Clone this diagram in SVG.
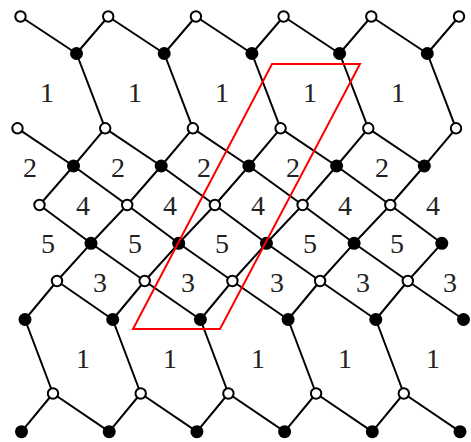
<svg xmlns="http://www.w3.org/2000/svg" width="471" height="442" viewBox="0 0 471 442">
<style>
.e{stroke:#000;stroke-width:2;fill:none}
.w{fill:#fff;stroke:#000;stroke-width:2}
.b{fill:#000}
.t{font-family:"Liberation Serif",serif;font-size:28px;text-anchor:middle;fill:#222}
.r{fill:none;stroke:#f00;stroke-width:2}
</style>
<g id="connectors" class="e">
<path d="M76.5,53.5L20.5,16.5M76.5,53.5L108.2,16.5M164.2,53.5L108.2,16.5M164.2,53.5L195.9,16.5M251.9,53.5L195.9,16.5M251.9,53.5L283.6,16.5M339.6,53.5L283.6,16.5M339.6,53.5L371.3,16.5M427.3,53.5L371.3,16.5M427.3,53.5L459,16.5"/>
<path d="M76.5,53.5L105.2,128.3M164.2,53.5L192.9,128.3M251.9,53.5L280.6,128.3M339.6,53.5L368.3,128.3M427.3,53.5L456,128.3"/>
<path d="M73.5,166L17.5,128.3M73.5,166L105.2,128.3M161.2,166L105.2,128.3M161.2,166L192.9,128.3M248.9,166L192.9,128.3M248.9,166L280.6,128.3M336.6,166L280.6,128.3M336.6,166L368.3,128.3M424.3,166L368.3,128.3M424.3,166L456,128.3"/>
<path d="M73.5,166L39.5,205M73.5,166L127.2,205M161.2,166L127.2,205M161.2,166L214.9,205M248.9,166L214.9,205M248.9,166L302.6,205M336.6,166L302.6,205M336.6,166L390.3,205M424.3,166L390.3,205"/>
<path d="M91,243.3L39.5,205M91,243.3L127.2,205M178.7,243.3L127.2,205M178.7,243.3L214.9,205M266.4,243.3L214.9,205M266.4,243.3L302.6,205M354.1,243.3L302.6,205M354.1,243.3L390.3,205M441.8,243.3L390.3,205"/>
<path d="M91,243.3L57,281M91,243.3L144.7,281M178.7,243.3L144.7,281M178.7,243.3L232.4,281M266.4,243.3L232.4,281M266.4,243.3L320.1,281M354.1,243.3L320.1,281M354.1,243.3L407.8,281M441.8,243.3L407.8,281"/>
<path d="M25,319.5L57,281M112.7,319.5L57,281M112.7,319.5L144.7,281M200.4,319.5L144.7,281M200.4,319.5L232.4,281M288.1,319.5L232.4,281M288.1,319.5L320.1,281M375.8,319.5L320.1,281M375.8,319.5L407.8,281M463.5,319.5L407.8,281"/>
<path d="M25,319.5L53,393.5M112.7,319.5L140.7,393.5M200.4,319.5L228.4,393.5M288.1,319.5L316.1,393.5M375.8,319.5L403.8,393.5"/>
<path d="M53,393.5L21.5,431.7M53,393.5L109.2,431.7M140.7,393.5L109.2,431.7M140.7,393.5L196.9,431.7M228.4,393.5L196.9,431.7M228.4,393.5L284.6,431.7M316.1,393.5L284.6,431.7M316.1,393.5L372.3,431.7M403.8,393.5L372.3,431.7M403.8,393.5L460,431.7"/>
</g>
<g id="row0">
<circle id="a0" class="w" cx="20.5" cy="16.5" r="5.2"/><circle id="a1" class="w" cx="108.2" cy="16.5" r="5.2"/><circle id="a2" class="w" cx="195.9" cy="16.5" r="5.2"/><circle id="a3" class="w" cx="283.6" cy="16.5" r="5.2"/><circle id="a4" class="w" cx="371.3" cy="16.5" r="5.2"/><circle id="a5" class="w" cx="459" cy="16.5" r="5.2"/>
</g>
<g id="row1">
<circle id="b0" class="b" cx="76.5" cy="53.5" r="6.5"/><circle id="b1" class="b" cx="164.2" cy="53.5" r="6.5"/><circle id="b2" class="b" cx="251.9" cy="53.5" r="6.5"/><circle id="b3" class="b" cx="339.6" cy="53.5" r="6.5"/><circle id="b4" class="b" cx="427.3" cy="53.5" r="6.5"/>
</g>
<g id="row2">
<circle id="c0" class="w" cx="17.5" cy="128.3" r="5.2"/><circle id="c1" class="w" cx="105.2" cy="128.3" r="5.2"/><circle id="c2" class="w" cx="192.9" cy="128.3" r="5.2"/><circle id="c3" class="w" cx="280.6" cy="128.3" r="5.2"/><circle id="c4" class="w" cx="368.3" cy="128.3" r="5.2"/><circle id="c5" class="w" cx="456" cy="128.3" r="5.2"/>
</g>
<g id="row3">
<circle id="d0" class="b" cx="73.5" cy="166" r="6.5"/><circle id="d1" class="b" cx="161.2" cy="166" r="6.5"/><circle id="d2" class="b" cx="248.9" cy="166" r="6.5"/><circle id="d3" class="b" cx="336.6" cy="166" r="6.5"/><circle id="d4" class="b" cx="424.3" cy="166" r="6.5"/>
</g>
<g id="row4">
<circle id="e0" class="w" cx="39.5" cy="205" r="5.2"/><circle id="e1" class="w" cx="127.2" cy="205" r="5.2"/><circle id="e2" class="w" cx="214.9" cy="205" r="5.2"/><circle id="e3" class="w" cx="302.6" cy="205" r="5.2"/><circle id="e4" class="w" cx="390.3" cy="205" r="5.2"/>
</g>
<g id="row5">
<circle id="f0" class="b" cx="91" cy="243.3" r="6.5"/><circle id="f1" class="b" cx="178.7" cy="243.3" r="6.5"/><circle id="f2" class="b" cx="266.4" cy="243.3" r="6.5"/><circle id="f3" class="b" cx="354.1" cy="243.3" r="6.5"/><circle id="f4" class="b" cx="441.8" cy="243.3" r="6.5"/>
</g>
<g id="row6">
<circle id="g0" class="w" cx="57" cy="281" r="5.2"/><circle id="g1" class="w" cx="144.7" cy="281" r="5.2"/><circle id="g2" class="w" cx="232.4" cy="281" r="5.2"/><circle id="g3" class="w" cx="320.1" cy="281" r="5.2"/><circle id="g4" class="w" cx="407.8" cy="281" r="5.2"/>
</g>
<g id="row7">
<circle id="h0" class="b" cx="25" cy="319.5" r="6.5"/><circle id="h1" class="b" cx="112.7" cy="319.5" r="6.5"/><circle id="h2" class="b" cx="200.4" cy="319.5" r="6.5"/><circle id="h3" class="b" cx="288.1" cy="319.5" r="6.5"/><circle id="h4" class="b" cx="375.8" cy="319.5" r="6.5"/><circle id="h5" class="b" cx="463.5" cy="319.5" r="6.5"/>
</g>
<g id="row8">
<circle id="i0" class="w" cx="53" cy="393.5" r="5.2"/><circle id="i1" class="w" cx="140.7" cy="393.5" r="5.2"/><circle id="i2" class="w" cx="228.4" cy="393.5" r="5.2"/><circle id="i3" class="w" cx="316.1" cy="393.5" r="5.2"/><circle id="i4" class="w" cx="403.8" cy="393.5" r="5.2"/>
</g>
<g id="row9">
<circle id="j0" class="b" cx="21.5" cy="431.7" r="6.5"/><circle id="j1" class="b" cx="109.2" cy="431.7" r="6.5"/><circle id="j2" class="b" cx="196.9" cy="431.7" r="6.5"/><circle id="j3" class="b" cx="284.6" cy="431.7" r="6.5"/><circle id="j4" class="b" cx="372.3" cy="431.7" r="6.5"/><circle id="j5" class="b" cx="460" cy="431.7" r="6.5"/>
</g>
<g id="labels" class="t">
<text x="47" y="102">1</text><text x="135" y="102">1</text><text x="222" y="102">1</text><text x="310" y="102">1</text><text x="398" y="102">1</text>
<text x="30" y="177">2</text><text x="118" y="177">2</text><text x="204" y="177">2</text><text x="293" y="177">2</text><text x="382" y="177">2</text>
<text x="83" y="215">4</text><text x="170" y="215">4</text><text x="258" y="215">4</text><text x="345" y="215">4</text><text x="433" y="215">4</text>
<text x="48" y="253">5</text><text x="135" y="253">5</text><text x="222" y="253">5</text><text x="310" y="253">5</text><text x="397" y="253">5</text>
<text x="100" y="292">3</text><text x="188" y="292">3</text><text x="277" y="292">3</text><text x="363" y="292">3</text><text x="450" y="292">3</text>
<text x="83" y="368">1</text><text x="170" y="368">1</text><text x="258" y="368">1</text><text x="345" y="368">1</text><text x="433" y="368">1</text>
</g>
<path id="cell" class="r" d="M272,64L360,64L220,329L133,329Z"/>
</svg>
